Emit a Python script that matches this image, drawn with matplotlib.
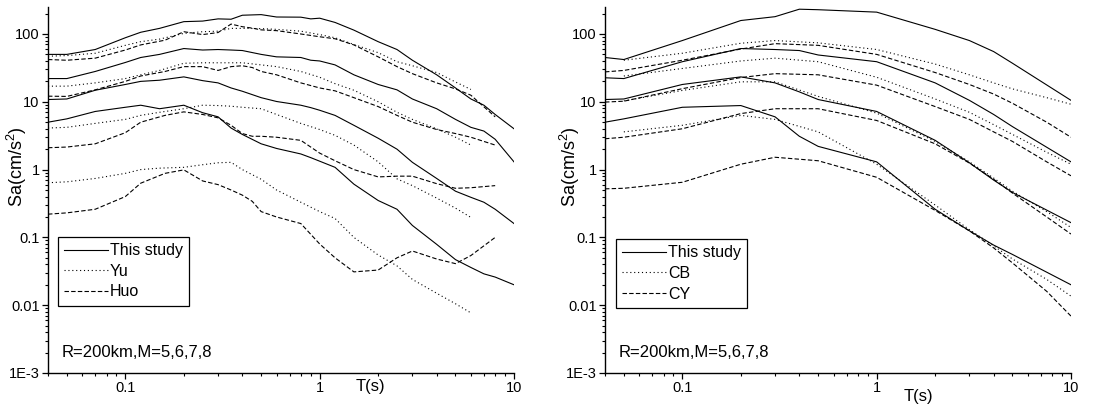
import numpy as np
import matplotlib
matplotlib.use('Agg')
import matplotlib.pyplot as plt
from matplotlib.ticker import LogLocator, FixedLocator, FixedFormatter, NullFormatter

plt.rcParams['font.family'] = ['Liberation Sans', 'DejaVu Sans']
plt.rcParams['mathtext.default'] = 'regular'

# periods (s)
T_LEFT = [0.04, 0.05, 0.07, 0.1, 0.12, 0.15, 0.2, 0.25, 0.3, 0.35, 0.4, 0.5, 0.6, 0.8, 0.9,
          1.0, 1.2, 1.5, 2, 2.5, 3, 4, 5, 6, 7, 8, 10]
T_YU = [0.04, 0.05, 0.07, 0.1, 0.12, 0.15, 0.2, 0.25, 0.3, 0.35, 0.4, 0.5, 0.6, 0.8,
        1.0, 1.2, 1.5, 2, 2.5, 3, 4, 5, 6]
T_HUO = [0.04, 0.05, 0.07, 0.1, 0.12, 0.16, 0.2, 0.25, 0.3, 0.35, 0.4, 0.45, 0.5, 0.6, 0.8,
         1.0, 1.2, 1.5, 2, 2.5, 3, 4, 5, 6, 8]
T_RIGHT = [0.04, 0.05, 0.1, 0.2, 0.3, 0.4, 0.5, 1, 2, 3, 4, 5, 10]
T_CB = [0.05, 0.1, 0.2, 0.3, 0.5, 1, 2, 3, 4, 5, 7.5, 10]
T_CY = [0.04, 0.05, 0.1, 0.2, 0.3, 0.5, 1, 2, 3, 4, 5, 7.5, 10]

# left panel, Sa (cm/s^2) for M = 8, 7, 6, 5
study_l_m8 = [50, 50, 59, 88, 106, 121, 152, 155, 167, 165, 189, 193, 178, 177, 167, 171, 148, 114, 77, 59, 41, 25, 16, 11, 8.9, 6.5, 4.0]
study_l_m7 = [22, 22, 28, 38, 45, 50, 61, 58, 59, 58, 57, 50, 46, 45, 41, 40, 35, 25, 18, 15, 11, 7.9, 5.5, 4.2, 3.7, 2.8, 1.3]
study_l_m6 = [10.8, 11, 14.8, 18, 20, 20.8, 23.3, 20.5, 19, 16, 14.3, 11.5, 10.1, 8.9, 8.2, 7.5, 6.3, 4.5, 2.9, 2.0, 1.28, 0.74, 0.48, 0.39, 0.33, 0.26, 0.16]
study_l_m5 = [5.0, 5.6, 7.2, 8.3, 8.9, 7.9, 8.9, 6.9, 6.0, 4.1, 3.3, 2.4, 2.05, 1.7, 1.5, 1.33, 1.08, 0.61, 0.35, 0.26, 0.15, 0.079, 0.047, 0.036, 0.029, 0.026, 0.020]

yu_m8 = [47, 48, 52, 68, 77, 84, 102, 108, 110, 121, 121, 120, 117, 110, 98, 88, 70, 53, 39, 34, 27, 19.6, 15.2]
yu_m7 = [17, 17, 19, 22, 25, 29, 37, 37.6, 37.6, 37.6, 37.6, 35, 33, 28, 23, 18.5, 14.8, 10, 7, 5.5, 4.0, 3.0, 2.3]
yu_m6 = [4.1, 4.2, 4.8, 5.5, 6.3, 7.0, 7.9, 8.9, 8.8, 8.6, 8.3, 7.9, 6.5, 4.8, 3.9, 3.2, 2.3, 1.3, 0.73, 0.58, 0.38, 0.27, 0.197]
yu_m5 = [0.64, 0.66, 0.74, 0.88, 1.0, 1.05, 1.08, 1.18, 1.26, 1.28, 1.0, 0.72, 0.5, 0.33, 0.24, 0.19, 0.10, 0.055, 0.038, 0.024, 0.015, 0.0105, 0.0077]

huo_m8 = [42, 41, 44, 58, 69, 81, 108, 98, 105, 140, 128, 122, 115, 112, 100, 91, 85, 69, 46, 33, 26, 19, 15.5, 12.5, 6.0]
huo_m7 = [12.1, 12, 15, 20, 24, 28, 33, 33, 29, 33, 34, 32, 28, 25, 19, 16, 14.5, 11.5, 8.5, 6.3, 5.0, 3.9, 3.4, 3.0, 2.3]
huo_m6 = [2.1, 2.15, 2.4, 3.5, 5.0, 6.3, 7.1, 6.5, 5.8, 4.5, 3.4, 3.1, 3.1, 3.0, 2.7, 1.75, 1.35, 1.0, 0.78, 0.8, 0.8, 0.62, 0.53, 0.54, 0.58]
huo_m5 = [0.22, 0.23, 0.26, 0.40, 0.63, 0.88, 0.99, 0.68, 0.6, 0.5, 0.42, 0.34, 0.24, 0.2, 0.16, 0.08, 0.05, 0.031, 0.033, 0.05, 0.063, 0.048, 0.041, 0.054, 0.1]

# right panel
study_r_m8 = [45, 42, 80, 158, 180, 232, 228, 210, 117, 80, 55, 37, 10.5]
study_r_m7 = [22.6, 22, 39, 61, 59, 57, 49, 39, 19, 10.5, 6.5, 4.3, 1.3]
study_r_m6 = [10.8, 11, 18, 23.3, 19, 14, 10.8, 7.2, 2.7, 1.26, 0.7, 0.46, 0.165]
study_r_m5 = [5.0, 5.6, 8.3, 8.8, 6.0, 3.1, 2.2, 1.3, 0.26, 0.125, 0.077, 0.056, 0.020]

cb_m8 = [41, 52, 73, 80, 74, 59, 36, 25, 19, 15.5, 11.5, 9.2]
cb_m7 = [24, 31, 40, 44, 39, 23, 11, 7, 4.6, 3.3, 1.8, 1.2]
cb_m6 = [10.3, 14.7, 19.7, 19.7, 12, 6.8, 2.6, 1.3, 0.75, 0.48, 0.24, 0.14]
cb_m5 = [3.6, 4.5, 6.3, 5.5, 3.6, 1.2, 0.3, 0.13, 0.075, 0.048, 0.024, 0.0136]

cy_m8 = [27.6, 29, 41, 60, 72, 68, 50, 27, 18, 13, 9.5, 5, 3.0]
cy_m7 = [9.9, 10.2, 15.6, 22.8, 26, 25, 17.6, 8.5, 5.5, 3.6, 2.6, 1.3, 0.81]
cy_m6 = [2.85, 3.0, 4.0, 6.7, 7.9, 7.9, 5.3, 2.4, 1.25, 0.72, 0.45, 0.2, 0.112]
cy_m5 = [0.52, 0.53, 0.65, 1.2, 1.52, 1.35, 0.77, 0.25, 0.125, 0.07, 0.042, 0.016, 0.0069]

y_ticks = [1e-3, 1e-2, 0.1, 1, 10, 100]
y_tick_labels = ['1E-3', '0.01', '0.1', '1', '10', '100']
x_ticks = [0.1, 1, 10]
x_tick_labels = ['0.1', '1', '10']

SOLID = '-'
DOT = (0, (1, 2.5))
DASH = (0, (4, 2))
LW = 0.8


def style_axes(ax, label_x):
    ax.set_xscale('log')
    ax.set_yscale('log')
    ax.set_xlim(0.04, 10)
    ax.set_ylim(1e-3, 250)
    for s in ['top', 'right']:
        ax.spines[s].set_visible(False)
    for s in ['left', 'bottom']:
        ax.spines[s].set_linewidth(1.0)
    ax.yaxis.set_major_locator(FixedLocator(y_ticks))
    ax.yaxis.set_major_formatter(FixedFormatter(y_tick_labels))
    ax.yaxis.set_minor_locator(LogLocator(base=10, subs=np.arange(2, 10)))
    ax.yaxis.set_minor_formatter(NullFormatter())
    ax.xaxis.set_major_locator(FixedLocator(x_ticks))
    ax.xaxis.set_major_formatter(FixedFormatter(x_tick_labels))
    ax.xaxis.set_minor_locator(LogLocator(base=10, subs=np.arange(2, 10)))
    ax.xaxis.set_minor_formatter(NullFormatter())
    ax.tick_params(which='major', direction='out', length=4, width=0.9, labelsize=10.5, pad=2)
    ax.tick_params(which='minor', direction='out', length=2.5, width=0.8)
    ax.set_ylabel('Sa(cm/s$^2$)', fontsize=13)
    ax.yaxis.set_label_coords(label_x, 0.565)
    ax.text(0.03, 0.057, 'R=200km,M=5,6,7,8', transform=ax.transAxes,
            fontsize=12, va='center', ha='left')


fig = plt.figure(figsize=(11.04, 4.07), dpi=100)
ax1 = fig.add_axes([48 / 1104, 34 / 407, 466 / 1104, 366 / 407])
ax2 = fig.add_axes([605 / 1104, 34 / 407, 466 / 1104, 366 / 407])

# left: this study vs Yu vs Huo
for i, (s, y, h) in enumerate([(study_l_m8, yu_m8, huo_m8), (study_l_m7, yu_m7, huo_m7),
                               (study_l_m6, yu_m6, huo_m6), (study_l_m5, yu_m5, huo_m5)]):
    ax1.plot(T_LEFT, s, color='black', lw=LW, ls=SOLID, label='This study' if i == 0 else None)
    ax1.plot(T_YU, y, color='black', lw=LW, ls=DOT, label='Yu' if i == 0 else None)
    ax1.plot(T_HUO, h, color='black', lw=LW, ls=DASH, label='Huo' if i == 0 else None)
style_axes(ax1, (29 - 48) / 466)
ax1.text(370 / 1104, 1 - 386 / 407, 'T(s)', transform=fig.transFigure,
         fontsize=12, ha='center', va='center')

# right: this study vs CB vs CY
for i, (s, b, c) in enumerate([(study_r_m8, cb_m8, cy_m8), (study_r_m7, cb_m7, cy_m7),
                               (study_r_m6, cb_m6, cy_m6), (study_r_m5, cb_m5, cy_m5)]):
    ax2.plot(T_RIGHT, s, color='black', lw=LW, ls=SOLID, label='This study' if i == 0 else None)
    ax2.plot(T_CB, b, color='black', lw=LW, ls=DOT, label='CB' if i == 0 else None)
    ax2.plot(T_CY, c, color='black', lw=LW, ls=DASH, label='CY' if i == 0 else None)
style_axes(ax2, (582 - 605) / 466)
ax2.text(918 / 1104, 1 - 396 / 407, 'T(s)', transform=fig.transFigure,
         fontsize=12, ha='center', va='center')

for ax, x0, y0 in [(ax1, 0.0215, 0.372), (ax2, 0.0236, 0.366)]:
    leg = ax.legend(loc='upper left', bbox_to_anchor=(x0, y0), fontsize=11.5,
                    frameon=True, fancybox=False, edgecolor='black', framealpha=1,
                    handlelength=2.7, handletextpad=0.15, borderpad=0.4,
                    labelspacing=0.35, borderaxespad=0)
    leg.get_frame().set_linewidth(0.9)

fig.savefig('out.png', dpi=100)
